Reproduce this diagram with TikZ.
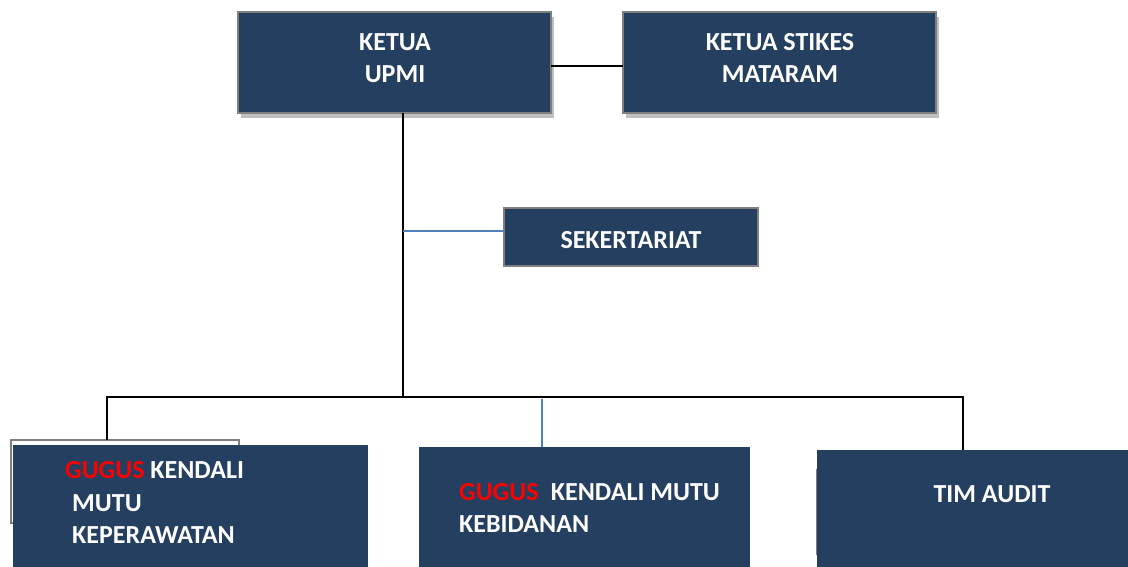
\documentclass[tikz,border=0pt]{standalone}
\usepackage{fontspec}
\setmainfont{Carlito}
\usetikzlibrary{shadows}
\definecolor{navy}{HTML}{243F60}
\definecolor{bordergray}{HTML}{7F7F7F}
\definecolor{linkblue}{HTML}{4F81BD}
\definecolor{gred}{HTML}{FF0000}
\begin{document}
\begin{tikzpicture}[x=1pt,y=-1pt,
  boxfill/.style={fill=navy, draw=none, inner sep=0pt, outer sep=0pt},
  topbox/.style={boxfill, draw=bordergray, line width=2.5pt,
    drop shadow={shadow xshift=3pt, shadow yshift=-5pt, fill=black!25, opacity=1}},
  sekbox/.style={boxfill, draw=bordergray, line width=2.5pt},
  ghost/.style={draw=bordergray, line width=2.5pt, inner sep=0pt, outer sep=0pt},
  lbl/.style={text=white, font=\bfseries\fontsize{26}{32}\selectfont, inner sep=0pt},
  conn/.style={draw=black, line width=1.6pt},
  bconn/.style={draw=linkblue, line width=1.3pt}]
\useasboundingbox (0,0) rectangle (1128,567);

% boxes
\node[topbox, minimum width=313pt, minimum height=101pt] (upmi) at (394.5,62.5) {};
\node[topbox, minimum width=313pt, minimum height=101pt] (stikes) at (779.5,62.5) {};
\node[sekbox, minimum width=254pt, minimum height=58pt] (sek) at (631,237) {};
\node[ghost, minimum width=228pt, minimum height=83pt] (kpback) at (125,481.5) {};
\node[boxfill, minimum width=355pt, minimum height=122pt] (kp) at (190.5,506) {};
\node[boxfill, minimum width=331pt, minimum height=120pt] (kb) at (584.5,507) {};
\coordinate (auditedge) at (816,469);
\coordinate (auditedgeb) at (816,555);
\draw[draw=bordergray, line width=1pt] (auditedge) -- (auditedgeb);
\node[boxfill, minimum width=311pt, minimum height=117pt] (audit) at (972.5,508.5) {};

% texts
\node[lbl, anchor=base] (t1) at (395,50.5) {KETUA};
\node[lbl, anchor=base] (t2) at (395,82.5) {UPMI};
\node[lbl, anchor=base] (t3) at (780,50.5) {KETUA STIKES};
\node[lbl, anchor=base] (t4) at (780,82.5) {MATARAM};
\node[lbl, anchor=base] (t5) at (631,248) {SEKERTARIAT};
\node[lbl, anchor=base west] (t6) at (65,478.5) {\textcolor{gred}{GUGUS} KENDALI};
\node[lbl, anchor=base west] (t7) at (72,511) {MUTU};
\node[lbl, anchor=base west] (t8) at (72,543.5) {KEPERAWATAN};
\node[lbl, anchor=base west] (t9) at (459,500.5) {\textcolor{gred}{GUGUS}\hspace{0.25em} KENDALI MUTU};
\node[lbl, anchor=base west] (t10) at (459,532.5) {KEBIDANAN};
\node[lbl, anchor=base] (t11) at (992,502.5) {TIM AUDIT};

% connectors
\draw[conn] ([yshift=-3.5pt]upmi.east) -- ([yshift=-3.5pt]stikes.west);
\coordinate (jt) at (403,397);
\coordinate (sj) at (403,231);
\coordinate (bl) at (107,397);
\coordinate (br) at (963,397);
\coordinate (bm) at (542,399);
\draw[conn] (upmi.south -| jt) -- (jt);
\draw[bconn] (sj) -- (sek.west |- sj);
\draw[conn] (bl |- kpback.north) -- (bl) -- (br) -- (br |- audit.north);
\draw[bconn] (bm) -- (bm |- kb.north);
\end{tikzpicture}
\end{document}
